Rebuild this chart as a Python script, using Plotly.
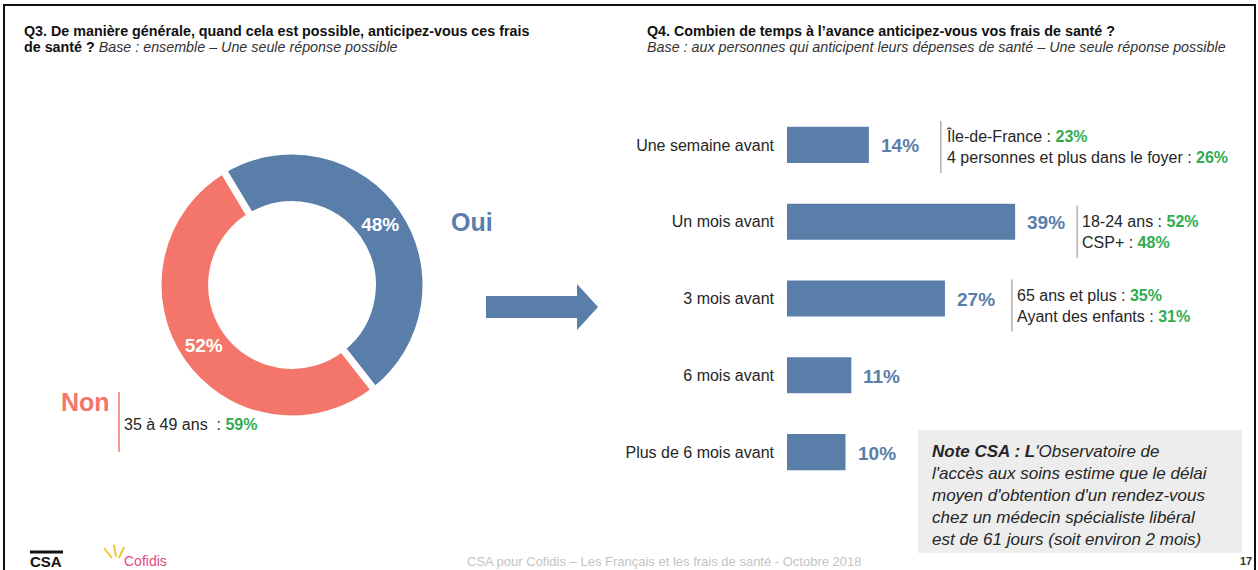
import plotly.graph_objects as go

W, H = 1258, 570

# Q3 donut
q3_labels = ["Oui", "Non"]
q3_values = [48, 52]
non_detail = ("35 à 49 ans", 59)

# Q4 bars
q4_categories = ["Une semaine avant", "Un mois avant", "3 mois avant",
                 "6 mois avant", "Plus de 6 mois avant"]
q4_values = [14, 39, 27, 11, 10]

# sub-group details next to some bars
note_categories = ["Une semaine avant", "Un mois avant", "3 mois avant"]
note_labels = [["Île-de-France", "4 personnes et plus dans le foyer"],
               ["18-24 ans", "CSP+"],
               ["65 ans et plus", "Ayant des enfants"]]
note_values = [[23, 26], [52, 48], [35, 31]]

BLUE = "#5a7eaa"
SALMON = "#f4766a"
GREEN = "#2fac4f"
DARK = "#262626"
FONT = "Liberation Sans, Arial, sans-serif"


def px(x):
    return x / W


def py(y):
    return 1 - y / H


def text_at(x, y, text, size, color=DARK, anchor="left", **kw):
    return dict(x=px(x), y=py(y), xref="paper", yref="paper", xanchor=anchor,
                yanchor="middle", showarrow=False, align="left", text=text,
                font=dict(size=size, color=color, family=FONT), **kw)


fig = go.Figure()

# donut: centre (292, 285), radius 134 px
fig.add_trace(go.Pie(
    labels=q3_labels, values=q3_values, sort=False,
    direction="clockwise", rotation=-31, hole=0.6,
    marker=dict(colors=[BLUE, SALMON], line=dict(color="white", width=7)),
    texttemplate="<b>%{value}%</b>", textposition="inside",
    insidetextorientation="horizontal",
    textfont=dict(color="white", size=19, family=FONT),
    domain=dict(x=[px(292 - 134), px(292 + 134)],
                y=[py(285 + 134), py(285 - 134)]),
    showlegend=False, hoverinfo="label+value",
))

fig.add_trace(go.Bar(
    x=q4_values, y=q4_categories, orientation="h",
    marker=dict(color=BLUE, line=dict(width=0)),
    width=0.47, showlegend=False, hoverinfo="x+y",
))

annotations = []
shapes = []

# titles
annotations.append(text_at(
    22, 31, "<b>Q3. De manière générale, quand cela est possible, anticipez-vous ces frais</b>",
    14.3, "#111"))
annotations.append(text_at(
    22, 47, "<b>de santé ?</b> <i><span style='color:#333'>Base : ensemble – "
            "Une seule réponse possible</span></i>", 14.3, "#111"))
annotations.append(text_at(
    645, 31, "<b>Q4. Combien de temps à l’avance anticipez-vous vos frais de santé ?</b>",
    14.3, "#111"))
annotations.append(text_at(
    645, 47, "<i>Base : aux personnes qui anticipent leurs dépenses de santé – "
             "Une seule réponse possible</i>", 14.3, "#333"))

# donut side labels
annotations.append(text_at(449, 222, "<b>%s</b>" % q3_labels[0], 25, BLUE))
annotations.append(text_at(112, 402, "<b>%s</b>" % q3_labels[1], 25, SALMON, anchor="right"))
annotations.append(text_at(
    122, 424, "%s  : <b><span style='color:%s'>%d%%</span></b>"
    % (non_detail[0], GREEN, non_detail[1]), 16))
shapes.append(dict(type="line", xref="paper", yref="paper",
                   x0=px(119), x1=px(119), y0=py(392), y1=py(452),
                   line=dict(color=SALMON, width=1.5)))

# arrow between the two panels
ax0, ax1, ax2 = px(486), px(577), px(598)
ay_t, ay_b = py(296), py(318)
ah_t, ah_b, a_mid = py(284), py(330), py(307)
shapes.append(dict(
    type="path", xref="paper", yref="paper", fillcolor=BLUE, line=dict(width=0),
    path=f"M {ax0} {ay_t} L {ax1} {ay_t} L {ax1} {ah_t} L {ax2} {a_mid} "
         f"L {ax1} {ah_b} L {ax1} {ay_b} L {ax0} {ay_b} Z"))

# bar value labels
for cat, val in zip(q4_categories, q4_values):
    annotations.append(dict(
        x=val, y=cat, xref="x", yref="y", xanchor="left", yanchor="middle",
        xshift=10, yshift=-1, showarrow=False, text="<b>%d%%</b>" % val,
        font=dict(size=19, color=BLUE, family=FONT)))

# sub-group notes
note_xshift = [72, 62, 67]
note_yshift = [-2, -10, -7]
for cat, labs, vals, xs, ys in zip(note_categories, note_labels, note_values,
                                   note_xshift, note_yshift):
    val = q4_values[q4_categories.index(cat)]
    lines = ["%s : <b><span style='color:%s'>%d%%</span></b>" % (l, GREEN, v)
             for l, v in zip(labs, vals)]
    annotations.append(dict(
        x=val, y=cat, xref="x", yref="y", xanchor="left", yanchor="middle",
        xshift=xs + 3, yshift=ys, showarrow=False, align="left",
        text="<br>".join(lines), font=dict(size=16, color=DARK, family=FONT)))
    shapes.append(dict(
        type="line", xref="x", yref="y", xsizemode="pixel", ysizemode="pixel",
        xanchor=val, yanchor=cat, x0=xs, x1=xs, y0=ys + 26, y1=ys - 26,
        line=dict(color="#8a8a8a", width=1)))

# note box
shapes.append(dict(type="rect", xref="paper", yref="paper",
                   x0=px(918), x1=px(1242), y0=py(553), y1=py(430),
                   fillcolor="#ededed", line=dict(width=0), layer="below"))
annotations.append(text_at(
    930, 495,
    "<b><i>Note CSA : L</i></b><i>'Observatoire de<br>"
    "l'accès aux soins estime que le délai<br>"
    "moyen d'obtention d'un rendez-vous<br>"
    "chez un médecin spécialiste libéral<br>"
    "est de 61 jours (soit environ 2 mois)</i>", 17))

# footer
annotations.append(text_at(
    665, 561, "CSA pour Cofidis – Les Français et les frais de santé - Octobre 2018",
    13, "#c4c4c4", anchor="center"))
annotations.append(text_at(1246, 561, "<b>17</b>", 11, "#333", anchor="center"))
annotations.append(text_at(46, 561, "<b>CSA</b>", 15, "#111", anchor="center"))
shapes.append(dict(type="line", xref="paper", yref="paper",
                   x0=px(30), x1=px(63), y0=py(552), y1=py(552),
                   line=dict(color="#111", width=3)))
annotations.append(text_at(122, 561, "Cofidis", 14, "#e2487e"))
for x0, y0, x1, y1 in [(112, 558, 104, 548), (116, 557, 114, 545), (119, 558, 124, 547)]:
    shapes.append(dict(type="line", xref="paper", yref="paper",
                       x0=px(x0), x1=px(x1), y0=py(y0), y1=py(y1),
                       line=dict(color="#f2c531", width=2)))

# slide frame
shapes.append(dict(type="rect", xref="paper", yref="paper",
                   x0=px(4), x1=px(1255), y0=-0.1, y1=py(5),
                   line=dict(color="#111", width=2)))

fig.update_layout(
    width=W, height=H, autosize=False,
    margin=dict(l=0, r=0, t=0, b=0),
    paper_bgcolor="white", plot_bgcolor="white",
    font=dict(family=FONT, color=DARK),
    xaxis=dict(domain=[px(787), 1.0], range=[0, 471 / 5.85], visible=False,
               fixedrange=True),
    yaxis=dict(domain=[py(490.5), py(106.5)], type="category",
               categoryorder="array", categoryarray=q4_categories,
               autorange="reversed", showgrid=False, zeroline=False,
               showline=False, ticks="", ticklabelstandoff=12,
               tickfont=dict(size=16, color=DARK, family=FONT)),
    annotations=annotations, shapes=shapes,
)

fig.write_html("out.html", config={"displayModeBar": False},
               post_script="document.body.style.margin='0px';")
